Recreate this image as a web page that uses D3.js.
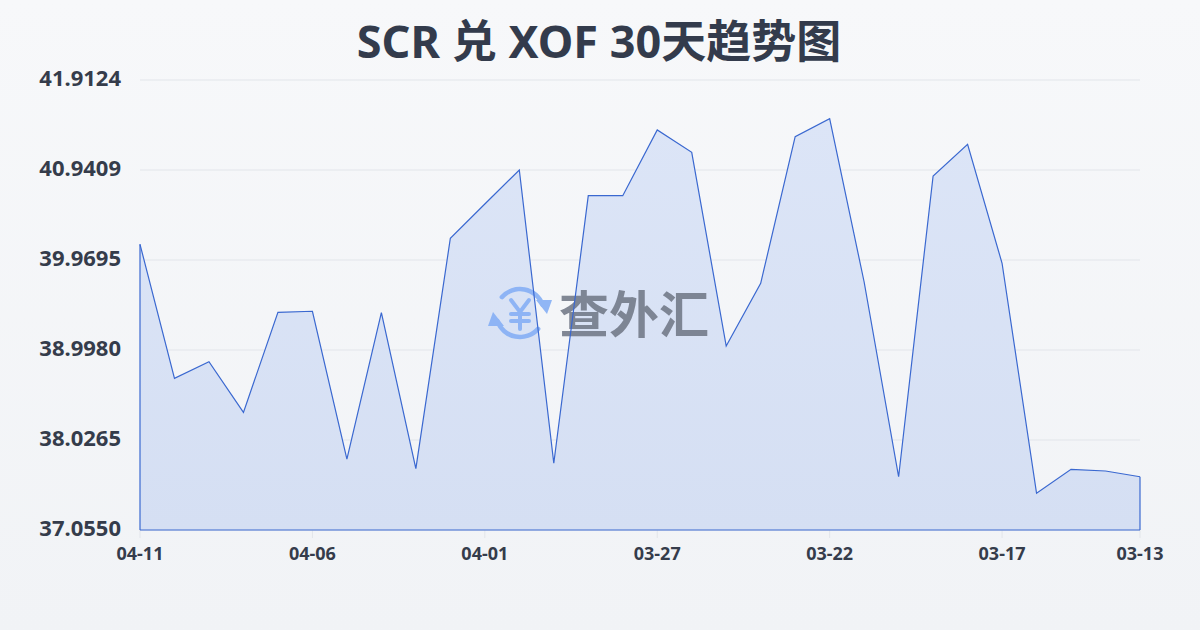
<!DOCTYPE html>
<html>
<head>
<meta charset="utf-8">
<script src="https://cdn.jsdelivr.net/npm/d3@7/dist/d3.min.js"></script>
<style>
html,body{margin:0;padding:0;}
body{width:1200px;height:630px;overflow:hidden;font-family:"Noto Sans","Noto Sans CJK SC",sans-serif;}
</style>
</head>
<body>
<svg id="chart" width="1200" height="630"></svg>
<script>
const titleText = "SCR 兑 XOF 30天趋势图";
const dates = ["04-11","04-10","04-09","04-08","04-07","04-06","04-05","04-04","04-03","04-02",
               "04-01","03-31","03-30","03-29","03-28","03-27","03-26","03-25","03-24","03-23",
               "03-22","03-21","03-20","03-19","03-18","03-17","03-16","03-15","03-14","03-13"];
const rates = [40.139,38.692,38.872,38.325,39.405,39.416,37.821,39.401,37.717,40.204,
               40.574,40.941,37.775,40.664,40.664,41.373,41.132,39.041,39.718,41.300,
               41.495,39.732,37.630,40.876,41.218,39.934,37.451,37.710,37.692,37.630];
const yTicks = [37.0550,38.0265,38.9980,39.9695,40.9409,41.9124];
const xTickLabels = ["04-11","04-06","04-01","03-27","03-22","03-17","03-13"];

const svg = d3.select("#chart");
const W = 1200, H = 630;
const m = {left:140, right:60, top:80, bottom:100};

const defs = svg.append("defs");
const bg = defs.append("linearGradient").attr("id","bg").attr("x1",0).attr("y1",0).attr("x2",0).attr("y2",1);
bg.append("stop").attr("offset","0%").attr("stop-color","#f7f8fa");
bg.append("stop").attr("offset","100%").attr("stop-color","#f1f3f6");
const ag = defs.append("linearGradient").attr("id","ag").attr("x1",0).attr("y1",0).attr("x2",0).attr("y2",1);
ag.append("stop").attr("offset","0%").attr("stop-color","#dce5f7");
ag.append("stop").attr("offset","100%").attr("stop-color","#d5dff3");

svg.append("rect").attr("width",W).attr("height",H).attr("fill","url(#bg)");

const x = d3.scalePoint().domain(dates).range([m.left, W - m.right]);
const y = d3.scaleLinear().domain([yTicks[0], yTicks[yTicks.length-1]]).range([H - m.bottom, m.top]);

// gridlines
svg.append("g").selectAll("line").data(yTicks).join("line")
  .attr("x1", m.left).attr("x2", W - m.right)
  .attr("y1", d => y(d)).attr("y2", d => y(d))
  .attr("stroke", "#e2e5ea").attr("stroke-width", 1);

// x tick marks
svg.append("g").selectAll("line").data(xTickLabels).join("line")
  .attr("x1", d => x(d)).attr("x2", d => x(d))
  .attr("y1", H - m.bottom).attr("y2", H - m.bottom + 8)
  .attr("stroke", "#e2e5ea").attr("stroke-width", 1);

// area
const area = d3.area().x((d,i) => x(dates[i])).y0(y(yTicks[0])).y1(d => y(d));
svg.append("path").datum(rates).attr("d", area).attr("fill", "url(#ag)");

// watermark
const wm = svg.append("g").attr("opacity", 0.9);
const cx = 520, cy = 313, r = 24;
const ic = "#86b0f5";
const arc = d3.arc().innerRadius(r-2.3).outerRadius(r+2.3).cornerRadius(2);
wm.append("path").attr("transform",`translate(${cx},${cy})`)
  .attr("d", arc({startAngle: -Math.PI*0.30, endAngle: Math.PI*0.42})).attr("fill",ic);
wm.append("path").attr("transform",`translate(${cx},${cy})`)
  .attr("d", arc({startAngle: Math.PI*0.70, endAngle: Math.PI*1.42})).attr("fill",ic);
wm.append("path").attr("d", `M${cx+r-8},${cy-13} L${cx+r+8},${cy-13} L${cx+r+3},${cy+1} Z`).attr("fill",ic);
wm.append("path").attr("d", `M${cx-r+8},${cy+13} L${cx-r-8},${cy+13} L${cx-r-3},${cy-1} Z`).attr("fill",ic);
const yen = wm.append("g").attr("stroke", ic).attr("stroke-width", 4).attr("stroke-linecap","round").attr("fill","none");
yen.append("path").attr("d", `M${cx-9},${cy-13} L${cx},${cy-1} L${cx+9},${cy-13}`);
yen.append("path").attr("d", `M${cx},${cy-1} L${cx},${cy+16}`);
yen.append("path").attr("d", `M${cx-9},${cy+1} L${cx+9},${cy+1}`);
yen.append("path").attr("d", `M${cx-9},${cy+8} L${cx+9},${cy+8}`);
wm.append("text").attr("x", 559).attr("y", 333).attr("font-size", 50).attr("font-weight", 700)
  .attr("font-family", "'Noto Sans CJK SC'").attr("fill", "#6f7685").attr("opacity",0.95).text("查外汇");

// line
const line = d3.line().x((d,i) => x(dates[i])).y(d => y(d));
svg.append("path").datum(rates).attr("d", line).attr("fill","none")
  .attr("stroke","#3a68d0").attr("stroke-width",1.2);
// baseline and sides
svg.append("line").attr("x1", m.left).attr("x2", W - m.right)
  .attr("y1", y(yTicks[0])).attr("y2", y(yTicks[0])).attr("stroke","#3a68d0").attr("stroke-width",1.2);
svg.append("line").attr("x1", x(dates[0])).attr("x2", x(dates[0]))
  .attr("y1", y(rates[0])).attr("y2", y(yTicks[0])).attr("stroke","#3a68d0").attr("stroke-width",1.2);
svg.append("line").attr("x1", x(dates[dates.length-1])).attr("x2", x(dates[dates.length-1]))
  .attr("y1", y(rates[rates.length-1])).attr("y2", y(yTicks[0])).attr("stroke","#3a68d0").attr("stroke-width",1.2);

// y labels
svg.append("g").selectAll("text").data(yTicks).join("text")
  .attr("x", 121).attr("y", d => y(d) + 6)
  .attr("text-anchor","end").attr("font-size", 22).attr("font-weight", 700)
  .attr("fill","#353c4b").text(d => d.toFixed(4));

// x labels
svg.append("g").selectAll("text").data(xTickLabels).join("text")
  .attr("x", d => x(d)).attr("y", 560)
  .attr("text-anchor","middle").attr("font-size", 18).attr("font-weight", 700)
  .attr("fill","#353c4b").text(d => d);

// title
svg.append("text").attr("x", 599).attr("y", 58).attr("text-anchor","middle")
  .attr("font-size", 45).attr("font-weight", 700)
  .attr("font-family","'Noto Sans','Noto Sans CJK SC',sans-serif")
  .attr("fill","#333b4c").text(titleText);
</script>
</body>
</html>
